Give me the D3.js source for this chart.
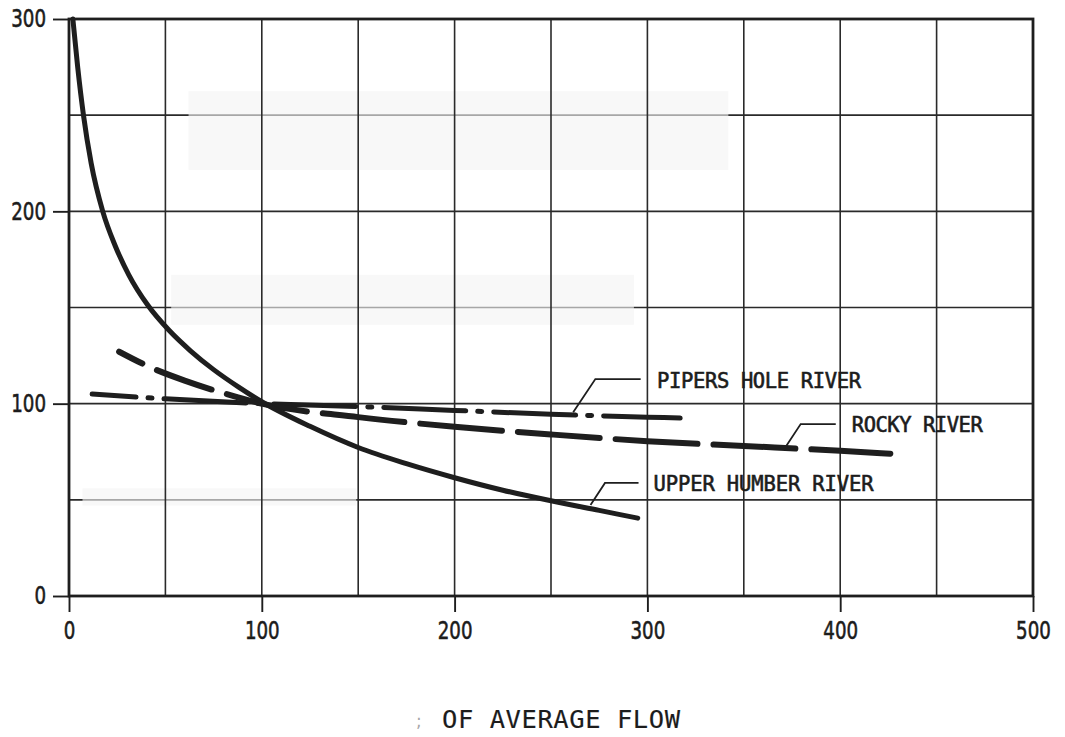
<!DOCTYPE html>
<html>
<head>
<meta charset="utf-8">
<script src="https://cdn.jsdelivr.net/npm/d3@7"></script>
<style>
  html, body { margin: 0; padding: 0; background: #fff; }
  svg { display: block; }
  text { font-family: "DejaVu Sans", "Liberation Sans", sans-serif; fill: #1c1c1c; }
  text.lettering { font-family: "DejaVu Sans Mono", "Liberation Mono", monospace; }
</style>
</head>
<body>
<svg id="chart" width="1065" height="737"></svg>
<script>
// Percent of average flow (x) against relative value (y) for three rivers.
const upperHumberX = [2, 4.5, 7.5, 11.5, 17.5, 24, 31, 41, 52, 63, 75, 88, 100, 125, 150, 175, 200, 225, 250, 275, 295];
const upperHumberY = [300, 275, 250, 225, 200, 182, 167, 151, 138, 127.5, 117.7, 108.6, 101, 88.2, 77.2, 68.8, 61.5, 55, 49.5, 44.5, 40.5];

const rockyX = [26, 42, 60, 80, 100, 150, 200, 250, 300, 350, 400, 426];
const rockyY = [127, 119, 112, 105.5, 100, 93, 88, 84, 80.5, 78, 75.5, 74];

const pipersX = [12, 50, 100, 150, 200, 250, 300, 317];
const pipersY = [105, 102.5, 100, 98.5, 96.5, 94.5, 93, 92.5];

const xTicks = [0, 100, 200, 300, 400, 500];
const yTicks = [0, 100, 200, 300];
const gridStep = 50;

const riverNames = ["PIPERS HOLE RIVER", "ROCKY RIVER", "UPPER HUMBER RIVER"];
const axisTitle = "OF AVERAGE FLOW";

const svg = d3.select("#chart");
const x = d3.scaleLinear().domain([0, 500]).range([69, 1033]);
const y = d3.scaleLinear().domain([0, 300]).range([596, 19]);
const ink = "#1e1e1e";

// grid: horizontal lines first so the faded scan patches wash them out
const gx = d3.range(0, 501, gridStep);
const gy = d3.range(0, 301, gridStep);

svg.append("g").selectAll("line").data(gy.slice(1, -1)).join("line")
  .attr("x1", x(0)).attr("x2", x(500))
  .attr("y1", d => y(d)).attr("y2", d => y(d))
  .attr("stroke", "#2a2a2a").attr("stroke-width", 1.6);

// faded paper patches (in data units)
const patches = [
  { x0: 62, x1: 342, y0: 221.5, y1: 262.5 },
  { x0: 53, x1: 293, y0: 141, y1: 167 },
  { x0: 7, x1: 149, y0: 47, y1: 56 }
];
svg.append("g").selectAll("rect").data(patches).join("rect")
  .attr("x", d => x(d.x0)).attr("y", d => y(d.y1))
  .attr("width", d => x(d.x1) - x(d.x0)).attr("height", d => y(d.y0) - y(d.y1))
  .attr("fill", "#f4f4f4").attr("fill-opacity", 0.62);

svg.append("g").selectAll("line").data(gx.slice(1, -1)).join("line")
  .attr("x1", d => x(d)).attr("x2", d => x(d))
  .attr("y1", y(300)).attr("y2", y(0))
  .attr("stroke", "#2a2a2a").attr("stroke-width", 1.6);

// frame
svg.append("rect")
  .attr("x", x(0)).attr("y", y(300))
  .attr("width", x(500) - x(0)).attr("height", y(0) - y(300))
  .attr("fill", "none").attr("stroke", ink).attr("stroke-width", 2.8);

// axes
const fmtLen = s => String(s).length * 11.6;
const yAxis = svg.append("g").attr("transform", `translate(${x(0)},0)`)
  .call(d3.axisLeft(y).tickValues(yTicks).tickSize(16).tickSizeOuter(0).tickPadding(7));
const xAxis = svg.append("g").attr("transform", `translate(0,${y(0)})`)
  .call(d3.axisBottom(x).tickValues(xTicks).tickSize(16).tickSizeOuter(0).tickPadding(10));
[yAxis, xAxis].forEach(g => {
  g.select(".domain").remove();
  g.selectAll(".tick line").attr("stroke", ink).attr("stroke-width", 1.9);
  g.selectAll(".tick text")
    .attr("font-size", 24)
    .attr("fill", ink)
    .attr("stroke", ink).attr("stroke-width", 0.6)
    .attr("textLength", d => fmtLen(d))
    .attr("lengthAdjust", "spacingAndGlyphs");
});

// curves
const line = d3.line().x(d => x(d[0])).y(d => y(d[1])).curve(d3.curveMonotoneX);
const zip = (a, b) => a.map((v, i) => [v, b[i]]);

const rockyDash = [26, 16, 58, 16].concat(d3.range(12).flatMap(() => [82, 16])).join(",");
const pipersDash = [44, 12, 4, 12].concat(d3.range(8).flatMap(() => [82, 12, 4, 12])).join(",");

svg.append("path").datum(zip(pipersX, pipersY))
  .attr("d", line).attr("fill", "none").attr("stroke", ink)
  .attr("stroke-width", 5).attr("stroke-linecap", "round")
  .attr("stroke-dasharray", pipersDash);

svg.append("path").datum(zip(rockyX, rockyY))
  .attr("d", line).attr("fill", "none").attr("stroke", ink)
  .attr("stroke-width", 6).attr("stroke-linecap", "round")
  .attr("stroke-dasharray", rockyDash);

svg.append("path").datum(zip(upperHumberX, upperHumberY))
  .attr("d", line).attr("fill", "none").attr("stroke", ink)
  .attr("stroke-width", 5).attr("stroke-linecap", "round");

// leaders and labels
const labels = [
  { name: riverNames[0], tip: [261.5, 95.5], elbow: [273, 112.8], end: [296.5, 112.8], tx: 305, ty: 108.2, w: 204 },
  { name: riverNames[1], tip: [372, 78], elbow: [379.5, 89.4], end: [397.7, 89.4], tx: 406, ty: 85.3, w: 131 },
  { name: riverNames[2], tip: [270.5, 47.3], elbow: [278, 58.8], end: [295.4, 58.8], tx: 303.2, ty: 54.6, w: 220 }
];
const lg = svg.append("g");
labels.forEach(l => {
  lg.append("path")
    .attr("d", d3.line()([[x(l.tip[0]), y(l.tip[1])], [x(l.elbow[0]), y(l.elbow[1])], [x(l.end[0]), y(l.end[1])]]))
    .attr("fill", "none").attr("stroke", ink).attr("stroke-width", 1.8);
  lg.append("text").attr("class", "lettering")
    .attr("x", x(l.tx)).attr("y", y(l.ty))
    .attr("font-size", 20.5)
    .attr("stroke", ink).attr("stroke-width", 0.6)
    .attr("textLength", l.w).attr("lengthAdjust", "spacing")
    .text(l.name);
});

// x-axis title (leading symbol faded on the sheet)
svg.append("text").attr("x", 416).attr("y", 727).attr("font-size", 17)
  .style("fill", "#a8a8a8").text(";");
svg.append("text").attr("class", "lettering").attr("x", 442).attr("y", 728).attr("font-size", 25.5)
  .attr("stroke", ink).attr("stroke-width", 0.15)
  .attr("textLength", 238).attr("lengthAdjust", "spacing")
  .text(axisTitle);
</script>
</body>
</html>
